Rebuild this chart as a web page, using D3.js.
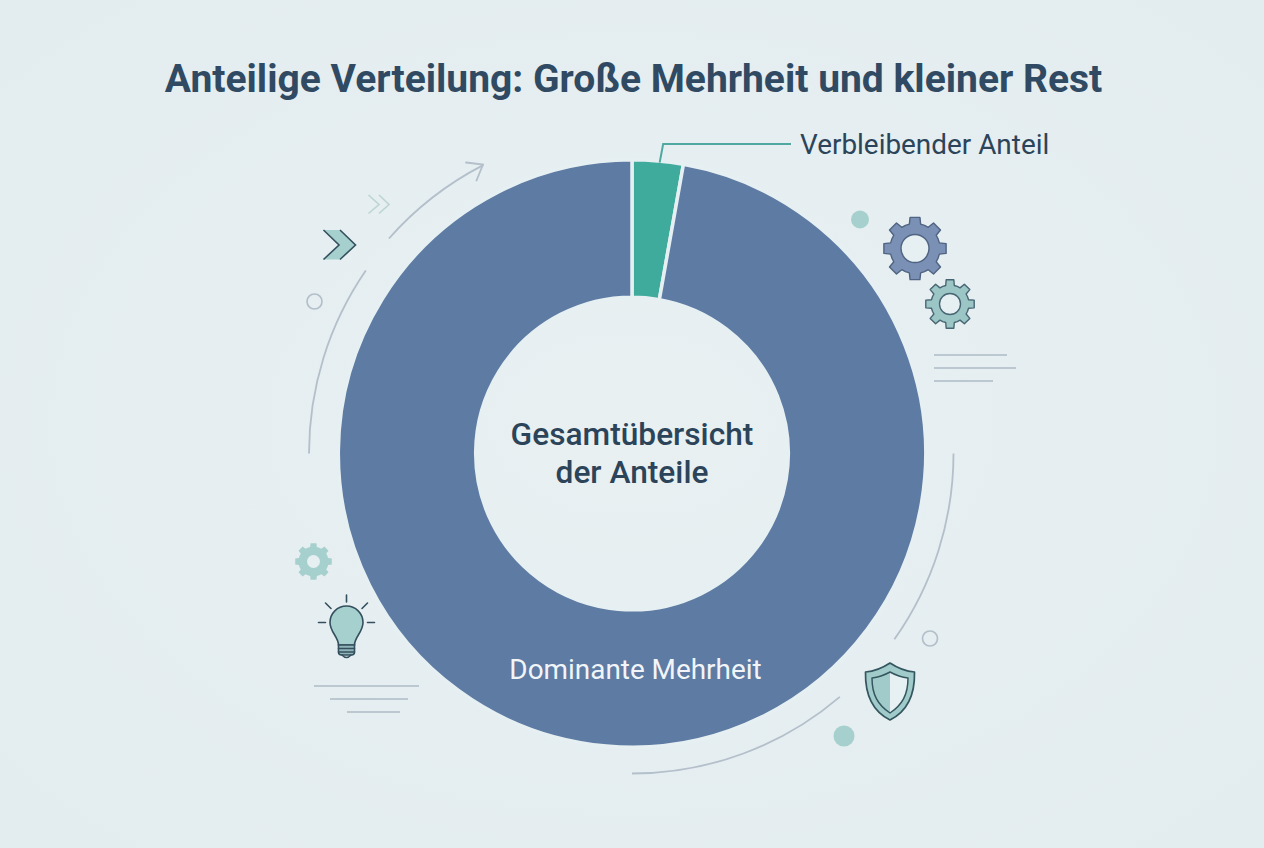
<!DOCTYPE html>
<html lang="de">
<head>
<meta charset="utf-8">
<title>Anteilige Verteilung</title>
<script src="https://cdn.jsdelivr.net/npm/d3@7/dist/d3.min.js"></script>
<style>
html,body{margin:0;padding:0;background:#e5eef1;}
svg{display:block;}
text{font-family:Roboto,"Noto Sans",sans-serif;}
</style>
</head>
<body>
<svg id="chart" width="1264" height="848"></svg>
<script>
// Share data for the ring
const categories = ["Verbleibender Anteil", "Dominante Mehrheit"];
const shares = [2.8, 97.2];
const sliceColors = ["#3fab9d", "#5e7ba3"];
const titleText = "Anteilige Verteilung: Große Mehrheit und kleiner Rest";
const centerLines = ["Gesamtübersicht", "der Anteile"];

const svg = d3.select("#chart");
const defs = svg.append("defs");

const bg = defs.append("radialGradient").attr("id", "bg").attr("cx", "50%").attr("cy", "50%").attr("r", "70%");
bg.append("stop").attr("offset", "0%").attr("stop-color", "#e8f0f2");
bg.append("stop").attr("offset", "100%").attr("stop-color", "#e3ecef");
svg.append("rect").attr("width", 1264).attr("height", 848).attr("fill", "url(#bg)");

const cx = 632, cy = 453.5, outerR = 293.7, innerR = 156.3;
const INK = "#2c4459", TEAL = "#a6d0cd", GREY = "#b3bfca", SLATE = "#7a90b4";

svg.append("text").attr("x", 633.5).attr("y", 92).attr("text-anchor", "middle")
  .attr("font-size", 39).attr("font-weight", 700).attr("fill", "#2f4a62").text(titleText);

// Ring
const pie = d3.pie().sort(null).value(d => d.value);
const arc = d3.arc().innerRadius(innerR).outerRadius(outerR);
const ring = svg.append("g").attr("transform", `translate(${cx},${cy})`);
const slices = pie(categories.map((name, i) => ({ name, value: shares[i] })));
ring.selectAll("path").data(slices).join("path")
  .attr("d", arc)
  .attr("fill", (d, i) => sliceColors[i])
  .attr("stroke", "#e6f0f2").attr("stroke-width", 3.5).attr("stroke-linejoin", "miter");

// Leader and slice labels
const smallAngle = (slices[0].startAngle + slices[0].endAngle) / 2;
const lx = Math.sin(smallAngle) * 292, ly = -Math.cos(smallAngle) * 292;
ring.append("path").attr("fill", "none").attr("stroke", "#4fa9a0").attr("stroke-width", 2)
  .attr("d", d3.line()([[lx + 2, ly], [lx + 5.5, -309.5], [159, -309.5]]));
svg.append("text").attr("x", 800).attr("y", 154).attr("font-size", 27.9).attr("fill", INK).text(categories[0]);
svg.append("text").attr("x", 635.5).attr("y", 679).attr("text-anchor", "middle")
  .attr("font-size", 27.9).attr("fill", "#f1f5f8").text(categories[1]);

// Center caption
svg.append("g").selectAll("text").data(centerLines).join("text")
  .attr("x", 632).attr("y", (d, i) => 445 + i * 38).attr("text-anchor", "middle")
  .attr("font-size", 31.7).attr("font-weight", 500).attr("fill", INK).text(d => d);

// Thin orbit arcs around the ring (angles clockwise from 12 o'clock)
const deg = Math.PI / 180;
const orbitG = svg.append("g").attr("transform", `translate(${cx},${cy})`)
  .attr("fill", "none").attr("stroke", GREY).attr("stroke-width", 1.8).attr("stroke-linecap", "round");
[[-90, -55.5, 323], [-48.5, -27.3, 324.5], [90, 125.3, 321.5], [139.5, 180, 320]].forEach(([a, b, r]) => {
  const orbit = d3.arc().innerRadius(r).outerRadius(r);
  orbitG.append("path").attr("d", orbit({ startAngle: a * deg, endAngle: b * deg }));
});
svg.append("path").attr("fill", "none").attr("stroke", GREY).attr("stroke-width", 1.8).attr("stroke-linecap", "round")
  .attr("d", "M466,162.5 L483,164.5 L476.5,180.5");

// Cog generator
function gearPath(teeth, rOut, rRoot) {
  const step = 2 * Math.PI / teeth;
  const pts = [];
  for (let i = 0; i < teeth; i++) {
    const a = i * step - Math.PI / 2;
    [[-0.5, rRoot], [-0.29, rRoot], [-0.2, rOut], [0.2, rOut], [0.29, rRoot], [0.5, rRoot]].forEach(([f, r]) => {
      pts.push([Math.cos(a + f * step) * r, Math.sin(a + f * step) * r]);
    });
  }
  return d3.line().curve(d3.curveLinearClosed)(pts);
}
function gear(x, y, teeth, rOut, rRoot, hole, fill, stroke) {
  const g = svg.append("g").attr("transform", `translate(${x},${y})`);
  g.append("path").attr("d", gearPath(teeth, rOut, rRoot)).attr("fill", fill)
    .attr("stroke", stroke || "none").attr("stroke-width", 1.4).attr("stroke-linejoin", "round");
  g.append("circle").attr("r", hole).attr("fill", "#e6eff2")
    .attr("stroke", stroke || "none").attr("stroke-width", 1.4);
}
gear(915, 248.5, 8, 31.5, 25, 14, SLATE, "#4f6482");
gear(950, 304, 8, 24.5, 19, 10.5, "#9cc6c6", "#476673");
gear(313.5, 561.5, 8, 18.5, 15, 6.5, TEAL, null);

// Loose dots and rings
[[860, 219.5, 9], [844, 736, 10.5]].forEach(([x, y, r]) =>
  svg.append("circle").attr("cx", x).attr("cy", y).attr("r", r).attr("fill", TEAL));
[[314.5, 301.5], [930, 638.5]].forEach(([x, y]) =>
  svg.append("circle").attr("cx", x).attr("cy", y).attr("r", 7.5).attr("fill", "none")
    .attr("stroke", GREY).attr("stroke-width", 1.7));

// Decorative text-like rules
[[934, 1007, 355], [934, 1016, 368], [934, 993, 381], [314, 419, 686], [330, 408, 699], [347, 400, 712]].forEach(([a, b, y]) =>
  svg.append("line").attr("x1", a).attr("x2", b).attr("y1", y).attr("y2", y)
    .attr("stroke", "#aebbc6").attr("stroke-width", 1.7));

// Chevrons
const chevrons = svg.append("g");
chevrons.append("path").attr("d", "M323.5,230 L340,230 L355.5,245 L340,259.5 L323.5,259.5 L339,245 Z").attr("fill", TEAL);
chevrons.selectAll("path.c").data(["M323.5,230 L339,245 L323.5,259.5", "M340,230 L355.5,245 L340,259.5"]).join("path")
  .attr("class", "c").attr("d", d => d).attr("fill", "none").attr("stroke", "#34505f").attr("stroke-width", 1.6);
chevrons.selectAll("path.l").data(["M368.5,195 L379,204.5 L368.5,213.5", "M379,195 L389,204.5 L379,213.5"]).join("path")
  .attr("class", "l").attr("d", d => d).attr("fill", "none").attr("stroke", "#bcd5d4").attr("stroke-width", 1.6);

// Light bulb
const bulb = svg.append("g").attr("transform", "translate(346.5,0)").attr("stroke", "#34505f").attr("stroke-width", 1.6).attr("stroke-linecap", "round");
bulb.append("path").attr("fill", TEAL)
  .attr("d", "M-8,645 C-8,637 -16.5,632 -16.5,622.5 A16.5,16.5 0 1 1 16.5,622.5 C16.5,632 8,637 8,645 Z");
bulb.append("path").attr("fill", "#8fb5b8").attr("d", "M-8,645 H8 V652 Q8,655 5,655 H-5 Q-8,655 -8,652 Z");
bulb.append("path").attr("fill", "none").attr("d", "M-8,648.5 H8 M-8,652 H8 M-4.5,655 Q0,660 4.5,655");
bulb.append("path").attr("fill", "none").attr("d", "M0,595 V602 M-21,603 L-15.5,608.5 M21,603 L15.5,608.5 M-28,622.5 H-21 M21,622.5 H28");

// Shield
const shield = svg.append("g").attr("transform", "translate(890,0)").attr("stroke-linejoin", "round");
shield.append("path").attr("fill", "#a0cbca").attr("stroke", "#34575f").attr("stroke-width", 1.7)
  .attr("d", "M0,663 Q12,671 24.5,672 C25,695 18,711 0,720 C-18,711 -25,695 -24.5,672 Q-12,671 0,663 Z");
shield.append("path").attr("fill", "#e7f0f2")
  .attr("d", "M0,672 Q9,677 18,678 C18,695 12,705 0,713 Z");
shield.append("path").attr("fill", "none").attr("stroke", "#34575f").attr("stroke-width", 1.5)
  .attr("d", "M0,672 Q9,677 18,678 C18,695 12,705 0,713 C-12,705 -18,695 -18,678 Q-9,677 0,672 Z");
</script>
</body>
</html>
